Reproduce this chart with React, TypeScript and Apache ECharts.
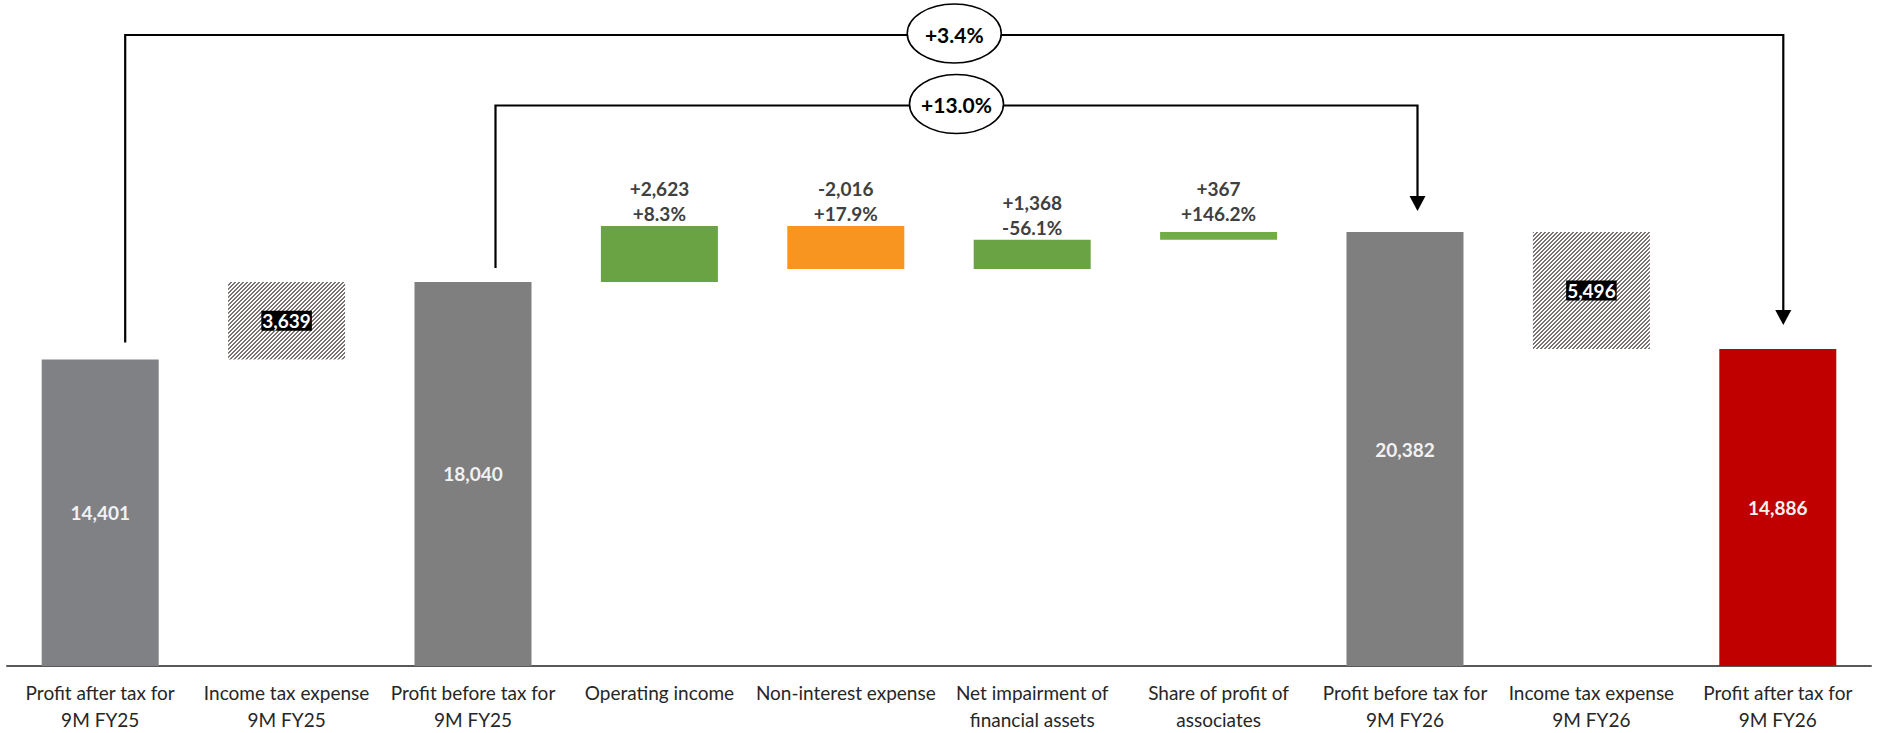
import React, { useEffect, useRef } from 'react';
import * as echarts from 'echarts';

const CATEGORIES = [
  'Profit after tax for\n9M FY25',
  'Income tax expense\n9M FY25',
  'Profit before tax for\n9M FY25',
  'Operating income',
  'Non-interest expense',
  'Net impairment of\nfinancial assets',
  'Share of profit of\nassociates',
  'Profit before tax for\n9M FY26',
  'Income tax expense\n9M FY26',
  'Profit after tax for\n9M FY26',
];
const KINDS = ['total', 'tax', 'total', 'delta', 'delta', 'delta', 'delta', 'total', 'tax', 'total'];
const AMOUNTS = [14401, 3639, 18040, 2623, -2016, 1368, 367, 20382, -5496, 14886];
const DELTA_PCTS = ['', '', '', '+8.3%', '+17.9%', '-56.1%', '+146.2%', '', '', ''];
const BRACKET_FROM = [0, 2];
const BRACKET_TO = [9, 7];
const BRACKET_LABELS = ['+3.4%', '+13.0%'];

// layout of the annotation brackets (pixels relative to computed positions)
const BRACKET_LAYOUT = [
  { lineOffset: 29, fromDx: 25, toDx: 5.5, startGap: 17, endGap: 24 },
  { lineOffset: 99.5, fromDx: 22.5, toDx: 12.5, startGap: 14, endGap: 21 },
];

const FONT = 'Lato, "Noto Sans", sans-serif';

function makeHatch() {
  const c = document.createElement('canvas');
  c.width = 8;
  c.height = 8;
  const ctx = c.getContext('2d')!;
  const img = ctx.createImageData(8, 8);
  for (let y = 0; y < 8; y++) {
    for (let x = 0; x < 8; x++) {
      const i = (y * 8 + x) * 4;
      const dark = (x + y) % 4 < 2;
      img.data[i] = dark ? 122 : 255;
      img.data[i + 1] = dark ? 115 : 255;
      img.data[i + 2] = dark ? 113 : 255;
      img.data[i + 3] = 255;
    }
  }
  ctx.putImageData(img, 0, 0);
  return { image: c, repeat: 'repeat', imageWidth: 8, imageHeight: 8 } as any;
}

const fmt = (v: number) => Math.abs(v).toLocaleString('en-US');

export default function App() {
  const ref = useRef<HTMLDivElement>(null);
  useEffect(() => {
    const el = ref.current!;
    const chart = echarts.init(el, null, { renderer: 'svg' });
    const hatch = makeHatch();

    const bases: number[] = [];
    const heights: number[] = [];
    let running = 0;
    AMOUNTS.forEach((a, i) => {
      if (KINDS[i] === 'total') {
        bases.push(0);
        heights.push(a);
        running = a;
      } else {
        const next = running + a;
        bases.push(Math.min(running, next));
        heights.push(Math.abs(a));
        running = next;
      }
    });

    const barData = heights.map((h, i) => {
      const kind = KINDS[i];
      const a = AMOUNTS[i];
      if (kind === 'total') {
        const color = i === AMOUNTS.length - 1 ? '#C00000' : i === 0 ? '#808185' : '#7F7F7F';
        return {
          value: h,
          itemStyle: { color },
          label: {
            show: true,
            position: 'inside',
            formatter: fmt(a),
            color: '#F2F2F2',
            fontWeight: 'bold',
            fontSize: 19,
            fontFamily: FONT,
          },
        };
      }
      if (kind === 'tax') {
        return {
          value: h,
          itemStyle: { color: hatch },
          label: {
            show: true,
            position: 'inside',
            formatter: fmt(a),
            color: '#FFFFFF',
            backgroundColor: '#000000',
            padding: [1, 1, 0, 1],
            fontWeight: 'bold',
            fontSize: 19,
            fontFamily: FONT,
          },
        };
      }
      return {
        value: h,
        itemStyle: { color: a >= 0 ? (i === 6 ? '#70AD47' : '#6AA344') : '#F79520' },
        label: {
          show: true,
          position: 'top',
          distance: i === 6 ? 6 : 0,
          formatter: (a >= 0 ? '+' : '-') + fmt(a) + '\n' + DELTA_PCTS[i],
          color: '#404040',
          fontWeight: 'bold',
          fontSize: 19,
          lineHeight: 25,
          fontFamily: FONT,
        },
      };
    });

    const bracketData = BRACKET_FROM.map((f, i) => [f, BRACKET_TO[i], AMOUNTS[f], AMOUNTS[BRACKET_TO[i]]]);

    const option: any = {
      animation: false,
      backgroundColor: '#ffffff',
      grid: { left: 7, right: 6, top: 6, bottom: 64, containLabel: false },
      xAxis: {
        type: 'category',
        data: CATEGORIES,
        axisTick: { show: false },
        axisLine: { lineStyle: { color: '#595959', width: 2 } },
        axisLabel: {
          interval: 0,
          margin: 13,
          color: '#262626',
          fontSize: 19,
          lineHeight: 27,
          fontFamily: FONT,
        },
      },
      yAxis: {
        type: 'value',
        min: 0,
        max: 31000,
        show: false,
        splitLine: { show: false },
      },
      series: [
        {
          type: 'bar',
          name: 'base',
          stack: 'w',
          barWidth: 117,
          silent: true,
          itemStyle: { color: 'rgba(0,0,0,0)' },
          data: bases,
        },
        {
          type: 'bar',
          name: 'value',
          stack: 'w',
          barWidth: 117,
          data: barData,
        },
        {
          type: 'custom',
          name: 'brackets',
          silent: true,
          clip: false,
          z: 10,
          encode: { x: 0, y: 2 },
          data: bracketData,
          renderItem: (params: any, api: any) => {
            const i = params.dataIndex;
            const L = BRACKET_LAYOUT[i];
            const p0 = api.coord([api.value(0), api.value(2)]);
            const p1 = api.coord([api.value(1), api.value(3)]);
            const top = params.coordSys.y;
            const lineY = top + L.lineOffset;
            const x0 = p0[0] + L.fromDx;
            const y0 = p0[1] - L.startGap;
            const x1 = p1[0] + L.toDx;
            const tipY = p1[1] - L.endGap;
            const ah = 15;
            const aw = 8;
            const cx = (x0 + x1) / 2;
            return {
              type: 'group',
              children: [
                {
                  type: 'polyline',
                  shape: { points: [[x0, y0], [x0, lineY], [x1, lineY], [x1, tipY - ah + 1]] },
                  style: { stroke: '#000', lineWidth: 2.2, fill: null },
                },
                {
                  type: 'polygon',
                  shape: { points: [[x1 - aw, tipY - ah], [x1 + aw, tipY - ah], [x1, tipY]] },
                  style: { fill: '#000' },
                },
                {
                  type: 'ellipse',
                  shape: { cx, cy: lineY - 1.5, rx: 47, ry: 29.5 },
                  style: { fill: '#fff', stroke: '#000', lineWidth: 1.6 },
                },
                {
                  type: 'text',
                  style: {
                    text: BRACKET_LABELS[i],
                    x: cx,
                    y: lineY - 1,
                    align: 'center',
                    verticalAlign: 'middle',
                    fill: '#000',
                    font: 'bold 21px ' + FONT,
                  },
                },
              ],
            };
          },
        },
      ],
    };
    chart.setOption(option);
    return () => chart.dispose();
  }, []);
  return (
    <div
      ref={ref}
      style={{ position: 'absolute', left: 0, top: 0, width: 1877, height: 733, background: '#fff' }}
    />
  );
}
